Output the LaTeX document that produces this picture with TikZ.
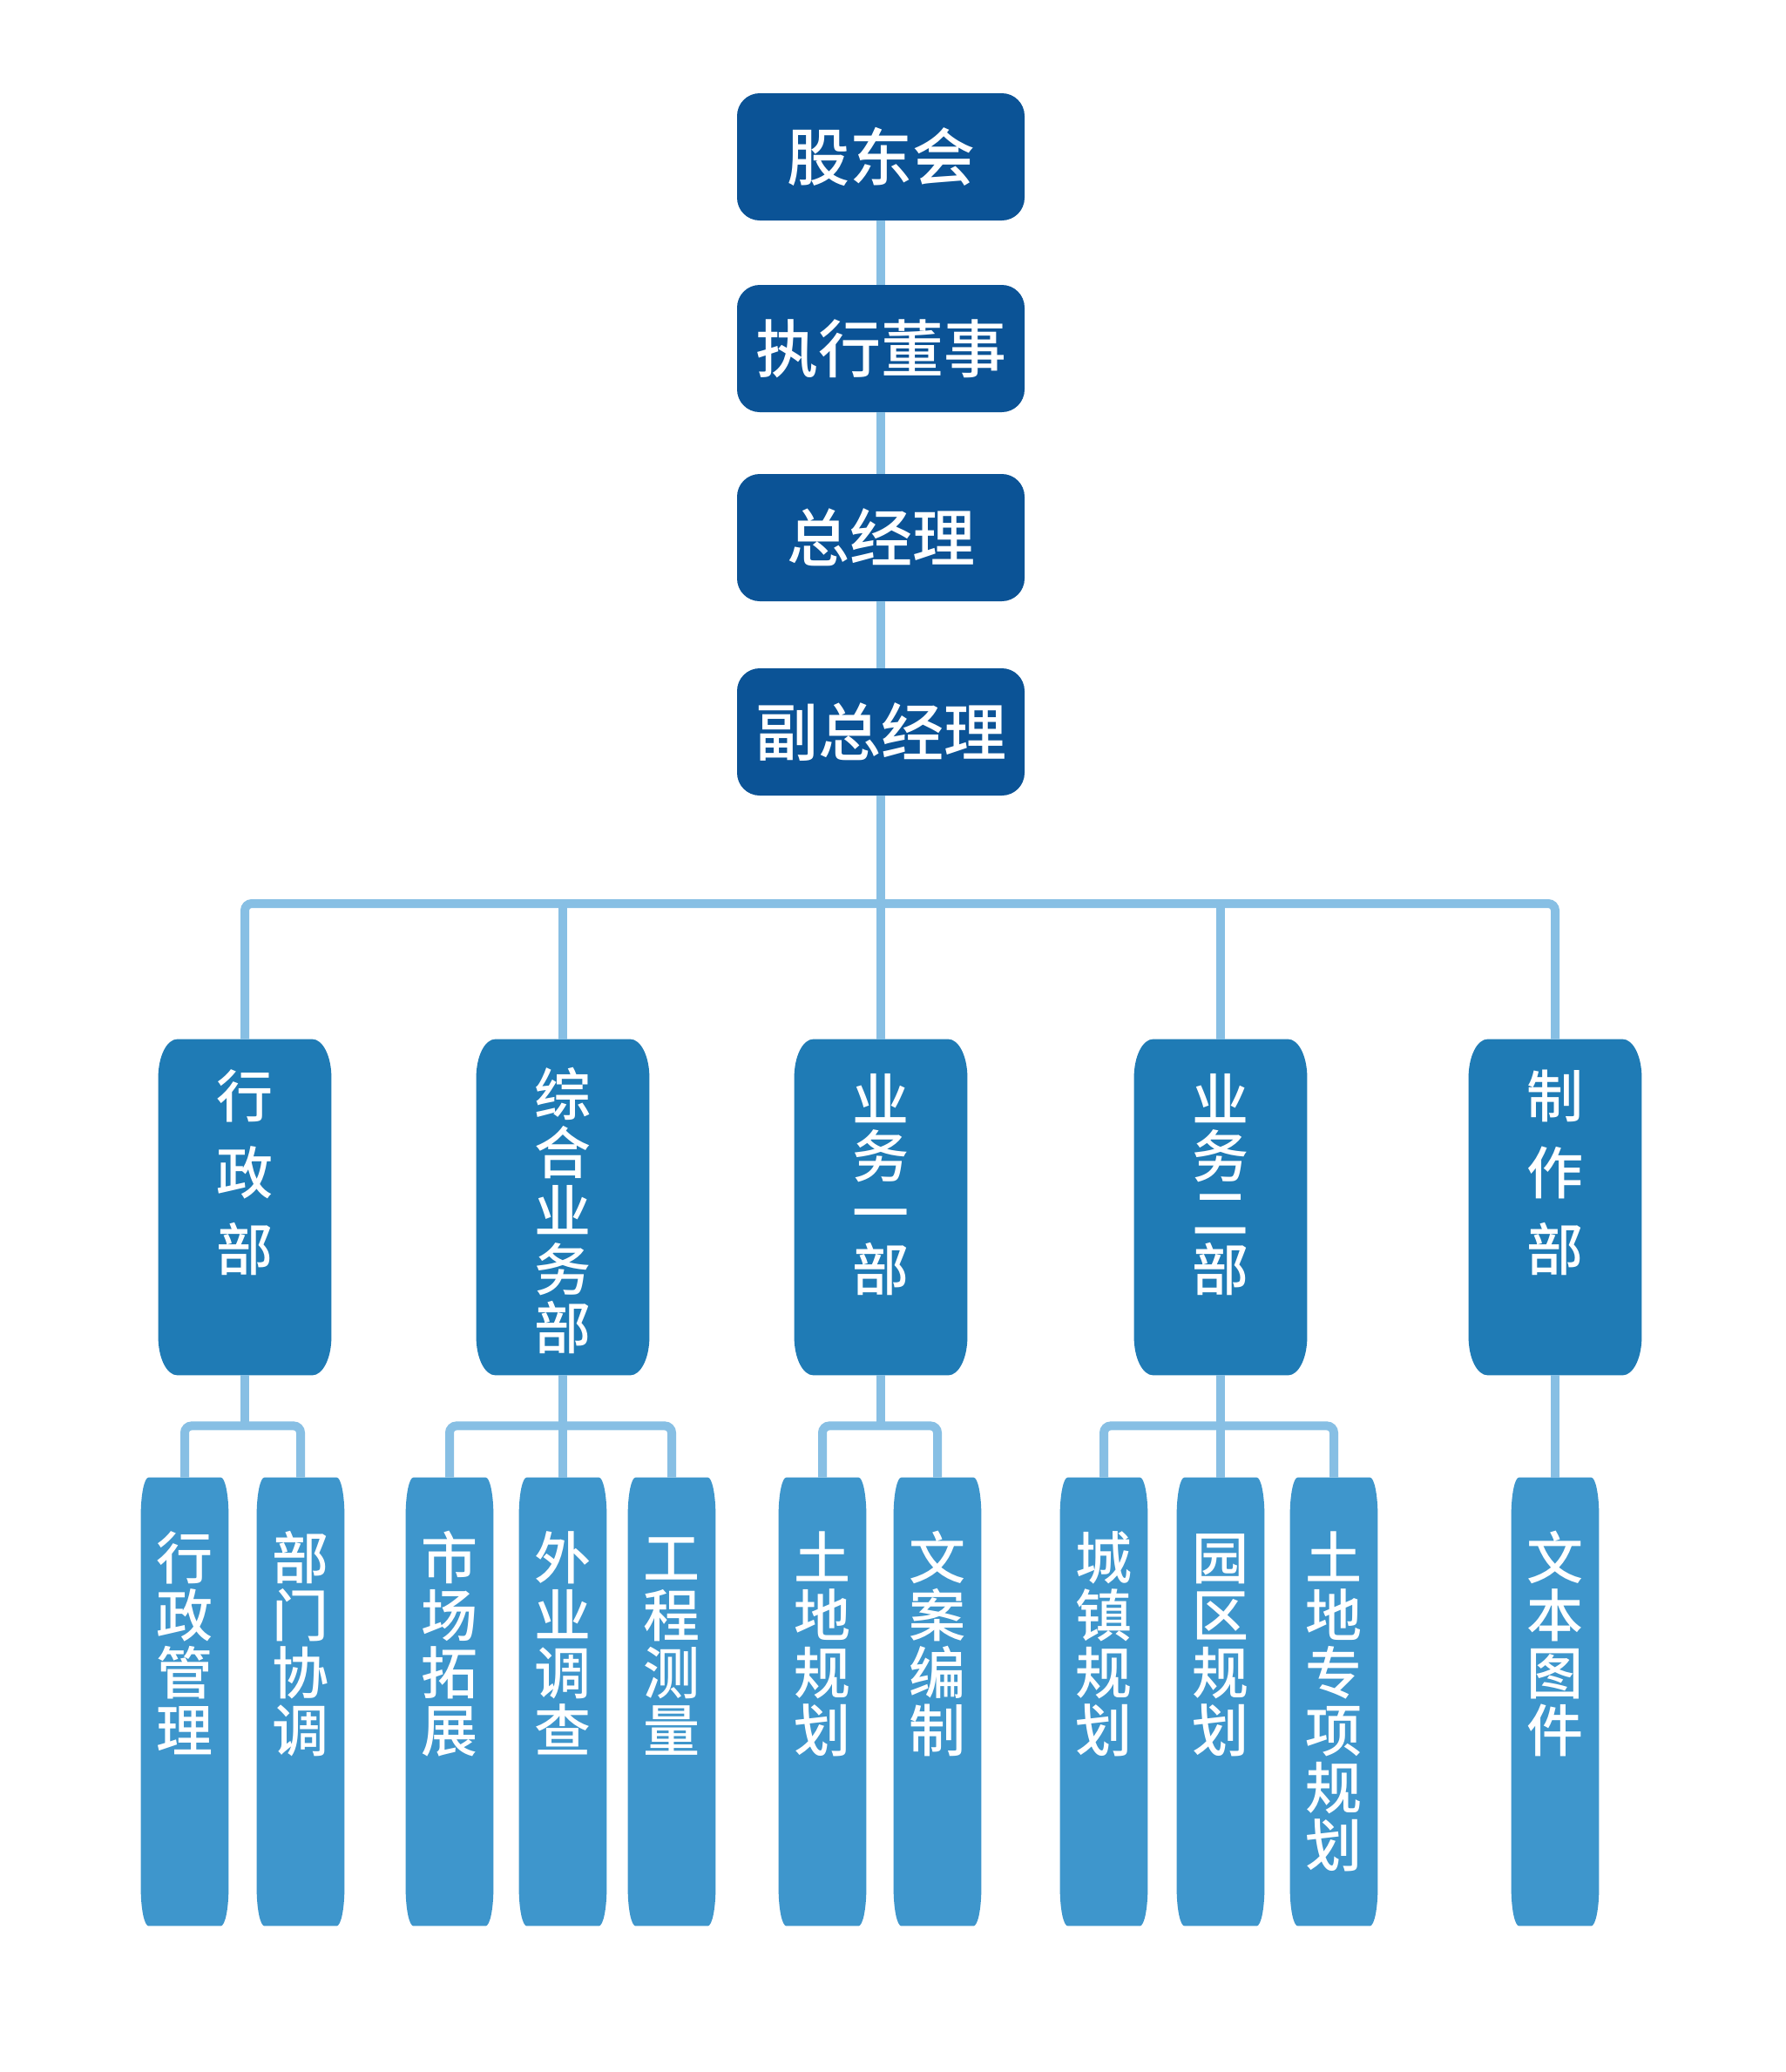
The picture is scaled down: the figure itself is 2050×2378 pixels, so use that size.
\documentclass[tikz,border=0pt]{standalone}
\usepackage{fontspec}
\newfontfamily\cjk{Noto Sans CJK SC}[UprightFont={* Medium},BoldFont={* Bold}]
\usetikzlibrary{calc,backgrounds}
\definecolor{topc}{RGB}{11,83,150}
\definecolor{midc}{RGB}{31,123,181}
\definecolor{leafc}{RGB}{62,150,204}
\definecolor{lc}{RGB}{135,191,228}
% width, height, top skip, baselineskip, text
\newcommand\colstack[5]{\vbox to #2{\hsize=#1\relax\parindent=0pt\parskip=0pt\baselineskip=#4\relax\lineskip=0pt\lineskiplimit=-\maxdimen\vskip#3\relax\hbox{}\centering #5\par\vfil}}
% node name, colour, rx, ry
\newcommand\drawcapsule[4]{%
 \fill[#2] ($(#1.north west)+(#3,0)$) -- ($(#1.north east)+(-#3,0)$)
   .. controls ($(#1.north east)+(-0.448*#3,0)$) and ($(#1.north east)+(0,-0.448*#4)$) .. ($(#1.north east)+(0,-#4)$)
   -- ($(#1.south east)+(0,#4)$)
   .. controls ($(#1.south east)+(0,0.448*#4)$) and ($(#1.south east)+(-0.448*#3,0)$) .. ($(#1.south east)+(-#3,0)$)
   -- ($(#1.south west)+(#3,0)$)
   .. controls ($(#1.south west)+(0.448*#3,0)$) and ($(#1.south west)+(0,0.448*#4)$) .. ($(#1.south west)+(0,#4)$)
   -- ($(#1.north west)+(0,-#4)$)
   .. controls ($(#1.north west)+(0,-0.448*#4)$) and ($(#1.north west)+(0.448*#3,0)$) .. ($(#1.north west)+(#3,0)$) -- cycle;}
\begin{document}
\begin{tikzpicture}[x=0.5pt,y=0.5pt,
  conn/.style={draw=lc,line width=5pt,rounded corners=4pt},
  straight/.style={draw=lc,line width=5pt},
  topbox/.style={fill=topc,text=white,rounded corners=13pt,minimum width=165pt,minimum height=73pt,inner sep=0pt,font=\cjk\fontsize{36pt}{36pt}\selectfont},
  midbox/.style={inner sep=0pt,text=white,font=\cjk\fontsize{32.5pt}{33pt}\selectfont},
  leafbox/.style={inner sep=0pt,text=white,font=\cjk\fontsize{32.5pt}{33pt}\selectfont}]
\useasboundingbox (0,0) rectangle (2050,-2378);

% top chain
\node[topbox] (b1) at (1011,-180) {股东会};
\node[topbox] (b2) at (1011,-400) {执行董事};
\node[topbox] (b3) at (1011,-617) {总经理};
\node[topbox] (b4) at (1011,-840) {副总经理};
\coordinate (bus) at (1011,-1037);

% departments
\node[midbox] (m1) at (281,-1385.5) {\colstack{99pt}{192.5pt}{0.5pt}{44pt}{行\par 政\par 部}};
\node[midbox] (m2) at (646,-1385.5) {\colstack{99pt}{192.5pt}{10pt}{33.5pt}{综\par 合\par 业\par 务\par 部}};
\node[midbox] (m3) at (1011,-1385.5) {\colstack{99pt}{192.5pt}{14pt}{32.5pt}{业\par 务\par 一\par 部}};
\node[midbox] (m4) at (1401,-1385.5) {\colstack{99pt}{192.5pt}{14pt}{32.5pt}{业\par 务\par 二\par 部}};
\node[midbox] (m5) at (1785,-1385.5) {\colstack{99pt}{192.5pt}{0.5pt}{44pt}{制\par 作\par 部}};

% leaves
\node[leafbox] (l1) at (212,-1953) {\colstack{50pt}{257pt}{25pt}{33pt}{行\par 政\par 管\par 理}};
\node[leafbox] (l2) at (345,-1953) {\colstack{50pt}{257pt}{25pt}{33pt}{部\par 门\par 协\par 调}};
\node[leafbox] (l3) at (516,-1953) {\colstack{50pt}{257pt}{25pt}{33pt}{市\par 场\par 拓\par 展}};
\node[leafbox] (l4) at (646,-1953) {\colstack{50pt}{257pt}{25pt}{33pt}{外\par 业\par 调\par 查}};
\node[leafbox] (l5) at (771,-1953) {\colstack{50pt}{257pt}{25pt}{33pt}{工\par 程\par 测\par 量}};
\node[leafbox] (l6) at (944,-1953) {\colstack{50pt}{257pt}{25pt}{33pt}{土\par 地\par 规\par 划}};
\node[leafbox] (l7) at (1076,-1953) {\colstack{50pt}{257pt}{25pt}{33pt}{文\par 案\par 编\par 制}};
\node[leafbox] (l8) at (1267,-1953) {\colstack{50pt}{257pt}{25pt}{33pt}{城\par 镇\par 规\par 划}};
\node[leafbox] (l9) at (1401,-1953) {\colstack{50pt}{257pt}{25pt}{33pt}{园\par 区\par 规\par 划}};
\node[leafbox] (l10) at (1531,-1953) {\colstack{50pt}{257pt}{25pt}{33pt}{土\par 地\par 专\par 项\par 规\par 划}};
\node[leafbox] (l11) at (1785,-1953) {\colstack{50pt}{257pt}{25pt}{33pt}{文\par 本\par 图\par 件}};

% box shapes
\begin{scope}[on background layer]
\fill[white] (0,0) rectangle (2050,-2378);
\foreach \n in {m1,m2,m3,m4,m5} {\drawcapsule{\n}{midc}{22}{44}}
\foreach \n in {l1,l2,l3,l4,l5,l6,l7,l8,l9,l10,l11} {\drawcapsule{\n}{leafc}{9}{44}}
\end{scope}

% junctions
\coordinate (j1) at ($(m1.south)+(0,-58)$);
\coordinate (j2) at ($(m2.south)+(0,-58)$);
\coordinate (j3) at ($(m3.south)+(0,-58)$);
\coordinate (j4) at ($(m4.south)+(0,-58)$);

% connectors
\draw[straight] (b1.south) -- (b2.north);
\draw[straight] (b2.south) -- (b3.north);
\draw[straight] (b3.south) -- (b4.north);
\draw[straight] (b4.south) -- (m3.north);
\draw[conn] (m1.north) |- (bus) -| (m5.north);
\draw[straight] (bus -| m2.north) -- (m2.north);
\draw[straight] (bus -| m4.north) -- (m4.north);

\draw[straight] (m1.south) -- (j1);
\draw[conn] (l1.north) |- (j1) -| (l2.north);
\draw[straight] (m2.south) -- (l4.north);
\draw[conn] (l3.north) |- (j2) -| (l5.north);
\draw[straight] (m3.south) -- (j3);
\draw[conn] (l6.north) |- (j3) -| (l7.north);
\draw[straight] (m4.south) -- (l9.north);
\draw[conn] (l8.north) |- (j4) -| (l10.north);
\draw[straight] (m5.south) -- (l11.north);
\end{tikzpicture}
\end{document}
